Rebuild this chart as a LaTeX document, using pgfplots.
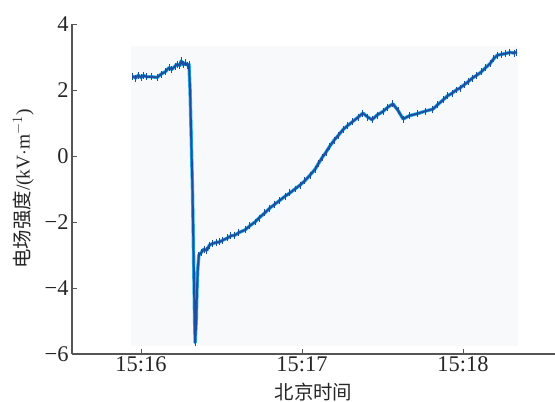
\documentclass[border=0pt]{standalone}
\usepackage{pgfplots}
\pgfplotsset{compat=1.18}
\usepackage{fontspec}
\setmainfont{Liberation Serif}
\newfontfamily\cjk{Noto Sans CJK SC}
\definecolor{darkb}{HTML}{1F4E9E}
\definecolor{lightb}{HTML}{22B5F0}
\definecolor{axgray}{HTML}{555555}
\definecolor{bgc}{HTML}{F8F9FB}
\pgfplotstableread{
s y
-3.0 2.42
-2.0 2.36
-1.0 2.45
0.0 2.38
1.0 2.44
2.0 2.40
4.0 2.40
6.0 2.38
7.5 2.48
9.0 2.55
10.5 2.68
11.5 2.62
12.7 2.72
13.5 2.78
14.5 2.74
15.0 2.88
15.8 2.76
16.5 2.82
17.3 2.75
17.9 2.78
18.3 2.0
18.6 1.0
18.9 0.0
19.2 -1.0
19.4 -2.0
19.6 -3.0
19.8 -4.0
20.0 -5.0
20.2 -5.65
20.6 -5.0
20.9 -4.0
21.2 -3.4
21.6 -3.0
22.5 -2.92
23.5 -2.82
24.5 -2.86
25.5 -2.70
26.5 -2.66
28.0 -2.62
29.4 -2.60
30.5 -2.55
32.4 -2.48
33.5 -2.42
35.0 -2.40
36.5 -2.32
38.8 -2.24
40.5 -2.12
42.5 -2.00
44.0 -1.88
46.2 -1.72
48.0 -1.58
49.9 -1.46
51.5 -1.36
53.7 -1.22
55.5 -1.12
57.4 -1.00
59.3 -0.88
61.1 -0.75
63.0 -0.58
64.9 -0.40
66.2 -0.22
67.5 -0.05
69.0 0.12
70.4 0.30
72.0 0.48
73.5 0.62
75.3 0.80
77.0 0.92
79.0 1.05
81.0 1.18
82.7 1.30
84.5 1.18
86.1 1.10
88.0 1.24
90.2 1.35
92.0 1.48
93.9 1.58
95.8 1.38
97.7 1.12
100.0 1.22
102.9 1.28
106.0 1.36
108.8 1.42
110.5 1.55
112.6 1.70
114.2 1.82
115.9 1.90
117.5 2.00
118.9 2.06
120.5 2.16
121.9 2.25
123.5 2.36
125.2 2.45
127.0 2.56
128.5 2.68
130.1 2.80
131.5 2.95
132.7 3.05
134.2 3.08
135.7 3.10
137.5 3.14
139.0 3.12
140.1 3.15
}\datatab
\begin{document}
\begin{tikzpicture}
\begin{axis}[
  scale only axis,
  width=483bp, height=330bp,
  xmin=-25.7, xmax=154.3,
  ymin=-6, ymax=4,
  axis lines*=left,
  axis line style={axgray, line width=1.4pt},
  xtick={0,60,120},
  xticklabels={15:16,15:17,15:18},
  ytick={-6,-4,-2,0,2,4},
  yticklabels={−6,−4,−2,0,2,4},
  tick align=inside,
  major tick length=5bp,
  tick style={axgray, line width=0.8pt},
  ticklabel style={font=\fontsize{22.5}{26}\selectfont, text=black!85},
  xticklabel style={yshift=1bp},
  xlabel={\cjk 北京时间},
  ylabel={{\cjk 电场强度}/(kV$\cdot$m$^{-1}$)},
  label style={font=\fontsize{19.5}{22}\selectfont, text=black!85},
  xlabel style={yshift=-4bp},
  ylabel style={yshift=4bp},
  clip=false,
]
\fill[bgc] (axis cs:-3.7,-5.76) rectangle (axis cs:140.5,3.33);
\addplot[lightb, line width=3.4pt, line join=round] table[x=s,y=y]{\datatab};
\addplot[darkb, line width=2pt, line join=round, mark=|, mark size=3.5pt, mark options={darkb, line width=0.9pt}] table[x=s,y=y]{\datatab};
\end{axis}
\pgfresetboundingbox
\useasboundingbox (-72bp,-48bp) rectangle (483bp,354bp);
\end{tikzpicture}
\end{document}
